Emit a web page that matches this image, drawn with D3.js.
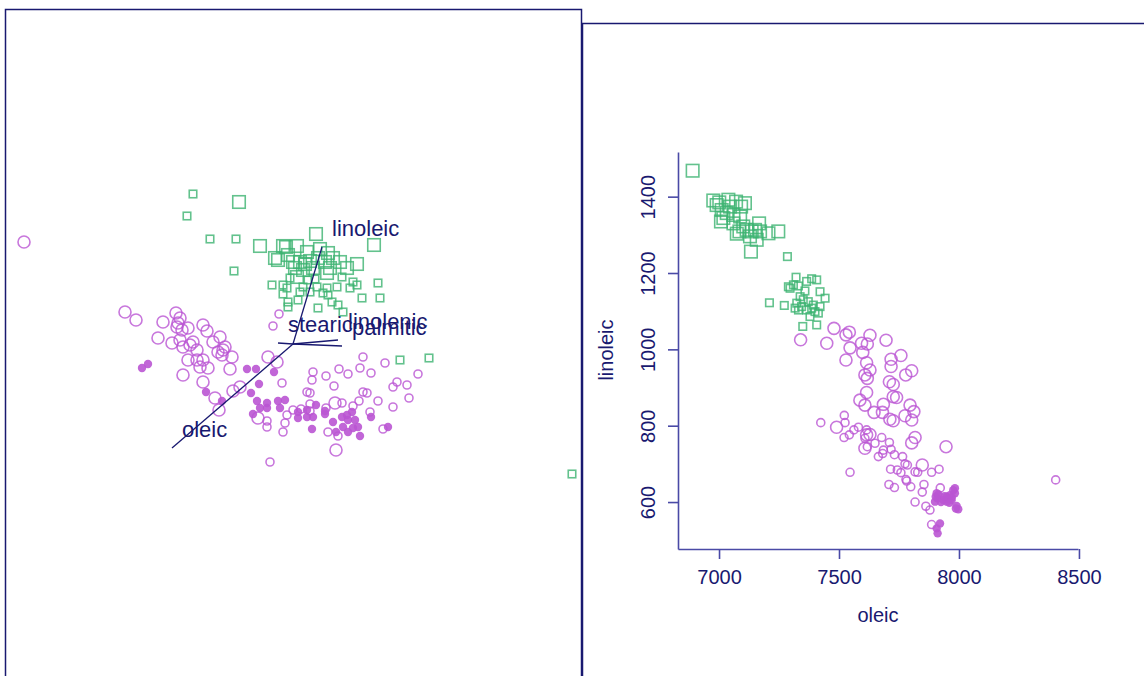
<!DOCTYPE html>
<html>
<head>
<meta charset="utf-8">
<script src="https://cdn.jsdelivr.net/npm/d3@7"></script>
<style>
  body { margin: 0; background: #fff; }
  svg { font-family: "Liberation Sans", Arial, sans-serif; }
</style>
</head>
<body>
<div id="chart"></div>
<script>
// ---- right panel: oleic vs linoleic ----
const squaresLarge = [
  [6890,1468],[6976,1390],[7001,1385],[7039,1392],[7071,1387],[7092,1374],[6990,1378],
  [7011,1365],[7018,1344],[7008,1335],[7060,1352],[7088,1348],[7101,1322],[7074,1303],
  [7115,1313],[7136,1309],[7167,1330],[7171,1309],[7157,1287],[7206,1304],[7247,1309],
  [7133,1256],[7046,1374],[7032,1357],[7060,1330],[7129,1296],[7085,1309],[7108,1383],[7150,1313]
];
const squaresSmall = [
  [7285,1243],[7210,1122],[7272,1115],[7296,1160],[7310,1169],[7321,1189],[7331,1166],
  [7365,1178],[7386,1185],[7407,1182],[7358,1153],[7338,1138],[7324,1121],[7344,1112],
  [7372,1125],[7393,1116],[7421,1151],[7442,1134],[7421,1112],[7400,1099],[7379,1086],
  [7407,1064],[7349,1060],[7331,1103],[7317,1108],[7386,1108],[7365,1103],[7414,1095],
  [7289,1164],[7351,1130]
];
const circlesLarge = [
  [7340,1025],[7449,1016],[7479,1055],[7529,1038],[7543,1045],[7546,1004],[7594,1016],
  [7599,992],[7618,1014],[7629,1037],[7696,1024],[7529,972],[7615,965],[7629,946],
  [7608,933],[7618,924],[7717,974],[7758,984],[7717,955],[7803,944],[7778,933],[7710,915],
  [7726,908],[7615,887],[7587,867],[7608,854],[7646,835],[7685,856],[7681,835],[7726,876],
  [7740,874],[7796,854],[7812,837],[7775,826],[7803,815],[7712,817],[7726,813],[7490,796],
  [7608,741],[7615,776],[7629,777],[7803,755],[7817,769],[7946,745],[7847,697]
];
const circlesSmall = [
  [7424,808],[7522,827],[7525,808],[7521,769],[7543,776],[7562,789],[7581,796],[7608,767],
  [7615,789],[7650,754],[7678,769],[7685,736],[7664,719],[7682,727],[7710,756],[7717,738],
  [7731,724],[7765,719],[7775,700],[7715,686],[7743,684],[7758,677],[7779,659],[7782,655],
  [7817,679],[7828,678],[7886,678],[7917,686],[7546,678],[7708,646],[7731,638],[7799,640],
  [7854,646],[7847,626],[7922,637],[7817,600],[7862,589],[7879,579],[7886,541],[7785,697],
  [7618,745],[8403,658]
];
const circlesFilled = [
  [7903,614],[7900,601],[7907,623],[7935,605],[7949,614],[7962,618],[7976,631],[7983,623],
  [7969,605],[7949,601],[7987,583],[7997,581],[7921,544],[7907,531],[7911,518],[7983,636],
  [7910,610],[7925,600],[7955,608],[7970,612],[7990,590],[7915,620],[7940,615],[7960,598]
];
const xTicks = [7000, 7500, 8000, 8500];
const yTicks = [600, 800, 1000, 1200, 1400];

// ---- left panel: projected coordinates ----
const projSquaresLarge = [
  [-0.54,1.42],[-0.33,0.98],[-0.18,0.86],[-0.15,0.84],[-0.10,0.98],[0.04,0.98],[0.14,0.92],
  [0.23,1.10],[0.27,0.95],[0.35,0.91],[0.40,0.86],[0.00,0.82],[0.07,0.82],[0.12,0.80],
  [0.17,0.83],[0.32,0.82],[0.37,0.76],[0.54,0.76],[0.64,0.80],[0.81,0.99],[0.02,0.76],
  [0.04,0.67],[0.20,0.76],[0.34,0.71],[-0.07,0.97],[0.10,0.74],[-0.05,0.89],[0.25,0.86],[0.47,0.82]
];
const projSquaresSmall = [
  [-1.00,1.50],[-1.06,1.28],[-0.83,1.05],[-0.57,1.05],[-0.59,0.73],[-0.21,0.59],[-0.10,0.59],
  [-0.06,0.56],[-0.10,0.50],[-0.05,0.42],[-0.05,0.37],[0.05,0.44],[0.10,0.57],[0.15,0.64],
  [0.22,0.65],[0.24,0.57],[0.34,0.56],[0.35,0.49],[0.39,0.42],[0.45,0.39],[0.25,0.36],
  [0.49,0.67],[0.44,0.57],[0.60,0.62],[0.64,0.59],[0.57,0.56],[0.85,0.61],[0.69,0.46],
  [0.87,0.46],[0.50,0.32],[0.07,0.52],[0.17,0.52],[0.30,0.51],[-0.03,0.66],[1.07,-0.16],
  [1.36,-0.14],[2.79,-1.30]
];
const projCirclesLarge = [
  [-2.69,1.02],[-1.68,0.32],[-1.57,0.24],[-1.30,0.22],[-1.17,0.31],[-1.13,0.26],[-1.16,0.17],
  [-1.11,0.14],[-1.05,0.16],[-0.90,0.19],[-0.86,0.13],[-1.35,0.06],[-1.21,0.01],[-1.13,0.04],
  [-1.10,-0.03],[-1.03,-0.01],[-1.00,0.02],[-0.96,-0.06],[-1.05,-0.16],[-0.96,-0.16],
  [-0.90,-0.16],[-0.85,-0.24],[-0.93,-0.23],[-0.80,0.02],[-0.73,0.07],[-0.75,-0.08],
  [-0.70,-0.06],[-0.68,-0.03],[-0.71,-0.11],[-0.63,-0.25],[-1.10,-0.31],[-0.90,-0.38],
  [-0.78,-0.54],[-0.74,-0.66],[-0.60,-0.47],[-0.53,-0.43],[-0.25,-0.13],[-0.16,-0.18],
  [0.43,-1.06],[0.42,-0.59],[-1.15,0.21],[-0.61,-0.13],[-0.35,-0.74]
];
const projCirclesSmall = [
  [-0.14,0.30],[-0.20,0.18],[-0.11,-0.39],[-0.23,-1.18],[0.70,-0.13],[0.92,-0.19],[1.25,-0.30],
  [1.14,-0.41],[1.16,-0.54],[1.04,-0.38],[1.00,-0.43],[0.78,-0.29],[0.67,-0.24],[0.55,-0.30],
  [0.46,-0.25],[0.33,-0.32],[0.20,-0.28],[0.19,-0.36],[0.41,-0.42],[0.14,-0.48],[0.17,-0.49],
  [0.70,-0.48],[0.74,-0.49],[0.66,-0.57],[0.60,-0.62],[0.49,-0.59],[0.33,-0.64],[0.17,-0.60],
  [0.08,-0.65],[-0.06,-0.71],[-0.08,-0.79],[-0.10,-0.88],[-0.26,-0.77],[-0.26,-0.83],
  [0.85,-0.57],[1.00,-0.63],[0.77,-0.68],[0.90,-0.85],[0.35,-0.88],[0.45,-0.92],[0.17,-0.67],[0.00,-0.66]
];
const projCirclesFilled = [
  [-1.51,-0.24],[-1.45,-0.20],[-0.87,-0.48],[-0.71,-0.57],[-0.46,-0.25],[-0.37,-0.25],
  [-0.19,-0.28],[-0.34,-0.40],[-0.42,-0.49],[-0.36,-0.57],[-0.26,-0.59],[-0.33,-0.64],
  [-0.26,-0.64],[-0.40,-0.70],[-0.15,-0.57],[-0.08,-0.56],[-0.13,-0.64],[0.05,-0.68],
  [0.05,-0.74],[0.14,-0.66],[0.14,-0.73],[0.23,-0.61],[0.20,-0.73],[0.19,-0.85],[0.32,-0.67],
  [0.32,-0.70],[0.40,-0.78],[0.49,-0.73],[0.54,-0.71],[0.55,-0.76],[0.59,-0.68],[0.62,-0.76],
  [0.50,-0.83],[0.55,-0.88],[0.60,-0.84],[0.65,-0.83],[0.67,-0.92],[0.43,-0.88],[0.78,-0.73],[0.95,-0.83]
];
const axisNames = ["oleic", "linoleic", "stearic", "linolenic", "palmitic"];
const axisEndX = [-1.21, 0.29, -0.15, 0.45, 0.49];
const axisEndY = [-1.04, 0.97, 0.01, 0.04, -0.02];

const green = "#3cb371", purple = "#ba55d3", navy = "#191970";

const width = 1144, height = 676;
const svg = d3.select("#chart").append("svg")
    .attr("width", width)
    .attr("height", height);

// panel frames
svg.append("rect")
    .attr("x", 5.5).attr("y", 9.5)
    .attr("width", 576).attr("height", 720)
    .attr("fill", "none").attr("stroke", navy).attr("stroke-width", 1.5);
svg.append("rect")
    .attr("x", 582.5).attr("y", 23.5)
    .attr("width", 600).attr("height", 720)
    .attr("fill", "none").attr("stroke", navy).attr("stroke-width", 1.5);

// draw helper for the point groups
function drawPoints(g, data, xs, ys, shape, size, color) {
    data.forEach(d => {
        const px = xs(d[0]), py = ys(d[1]);
        if (shape === "square") {
            g.append("rect")
                .attr("x", px - size / 2).attr("y", py - size / 2)
                .attr("width", size).attr("height", size)
                .attr("fill", "none").attr("stroke", color)
                .attr("stroke-width", 1.6).attr("stroke-opacity", 0.8);
        } else if (shape === "filled") {
            g.append("circle")
                .attr("cx", px).attr("cy", py).attr("r", size)
                .attr("fill", color).attr("fill-opacity", 0.9);
        } else {
            g.append("circle")
                .attr("cx", px).attr("cy", py).attr("r", size)
                .attr("fill", "none").attr("stroke", color)
                .attr("stroke-width", 1.6).attr("stroke-opacity", 0.8);
        }
    });
}

// ---------- left panel (projection) ----------
const px = d3.scaleLinear().domain([-3, 3]).range([293 - 300, 293 + 300]);
const py = d3.scaleLinear().domain([-3, 3]).range([344 + 300, 344 - 300]);
const left = svg.append("g");

drawPoints(left, projSquaresLarge, px, py, "square", 12.5, green);
drawPoints(left, projSquaresSmall, px, py, "square", 7.5, green);
drawPoints(left, projCirclesLarge, px, py, "circle", 6, purple);
drawPoints(left, projCirclesSmall, px, py, "circle", 4, purple);
drawPoints(left, projCirclesFilled, px, py, "filled", 4.2, purple);

axisNames.forEach((name, i) => {
    left.append("line")
        .attr("x1", px(0)).attr("y1", py(0))
        .attr("x2", px(axisEndX[i])).attr("y2", py(axisEndY[i]))
        .attr("stroke", navy).attr("stroke-width", 1.3);
    left.append("text")
        .attr("x", px(axisEndX[i]) + 10)
        .attr("y", py(axisEndY[i]) - 11)
        .attr("fill", navy)
        .style("font-size", "22px")
        .text(name);
});

// ---------- right panel (scatterplot) ----------
const xScale = d3.scaleLinear().domain([6829, 8496]).range([678, 1078]);
const yScale = d3.scaleLinear().domain([477, 1517]).range([549, 152]);
const right = svg.append("g");

drawPoints(right, squaresLarge, xScale, yScale, "square", 12.5, green);
drawPoints(right, squaresSmall, xScale, yScale, "square", 7.5, green);
drawPoints(right, circlesLarge, xScale, yScale, "circle", 6, purple);
drawPoints(right, circlesSmall, xScale, yScale, "circle", 4, purple);
drawPoints(right, circlesFilled, xScale, yScale, "filled", 4.2, purple);

const xAxis = right.append("g")
    .attr("transform", "translate(0,549)")
    .call(d3.axisBottom(xScale).tickValues(xTicks).tickFormat(d3.format("d"))
        .tickSize(10).tickSizeOuter(0).tickPadding(11));
const yAxis = right.append("g")
    .attr("transform", "translate(678,0)")
    .call(d3.axisLeft(yScale).tickValues(yTicks).tickFormat(d3.format("d"))
        .tickSize(10).tickSizeOuter(0));

[xAxis, yAxis].forEach(a => {
    a.selectAll("path, line").attr("stroke", "#4a4aa6").attr("stroke-width", 1.6);
    a.selectAll("text").attr("fill", navy).style("font-size", "20px")
        .style("font-family", "'Liberation Sans', Arial, sans-serif");
});
yAxis.selectAll("text")
    .attr("x", 0).attr("y", 0).attr("dy", 0)
    .attr("text-anchor", "middle")
    .attr("transform", "translate(-23,0) rotate(-90)");

right.append("text")
    .attr("x", 878).attr("y", 622)
    .attr("text-anchor", "middle")
    .attr("fill", navy).style("font-size", "20px")
    .text("oleic");
right.append("text")
    .attr("transform", "translate(613,350) rotate(-90)")
    .attr("text-anchor", "middle")
    .attr("fill", navy).style("font-size", "20px")
    .text("linoleic");
</script>
</body>
</html>
